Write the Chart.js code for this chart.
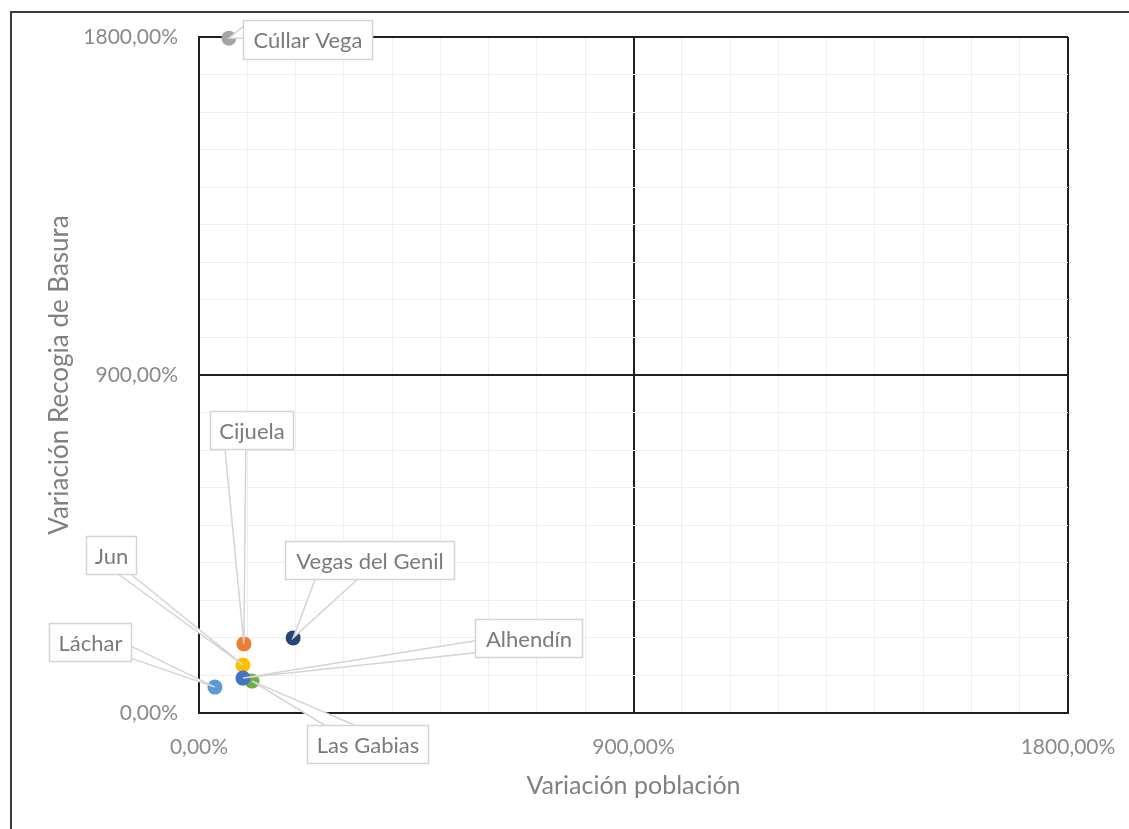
<!DOCTYPE html>
<html>
<head>
<meta charset="utf-8">
<script src="https://cdn.jsdelivr.net/npm/chart.js@4.4.0/dist/chart.umd.min.js"></script>
<style>
  html, body { margin: 0; padding: 0; background: #fff; overflow: hidden; }
  #wrap { position: relative; width: 1129px; height: 829px; }
  #frame {
    position: absolute; left: 10px; top: 11px; right: -10px; bottom: -10px;
    border-top: 2px solid #3a3a3a; border-left: 2px solid #3a3a3a;
    pointer-events: none;
  }
  canvas { position: absolute; left: 0; top: 0; }
</style>
</head>
<body>
<div id="wrap">
  <canvas id="chart" width="1129" height="829"></canvas>
  <div id="frame"></div>
</div>
<script>
'use strict';

// municipios, variación de población (%) y de recogida de basura (%)
const municipios = ['Alhendín', 'Cijuela', 'Cúllar Vega', 'Jun', 'Láchar', 'Las Gabias', 'Vegas del Genil'];
const varPoblacion = [91, 93, 62, 91, 33, 110, 195];
const varBasura = [93, 184, 1797, 128, 69, 85, 200];
const colores = ['#4472C4', '#ED7D31', '#A5A5A5', '#FFC000', '#5B9BD5', '#70AD47', '#264478'];
const ejeTicks = [0, 900, 1800];

// where each callout box sits relative to its point, and which side the pointer leaves from
const callouts = [
    { dx: 286, dy: -40, w: 107, h: 38, side: 'left', at: 0.72 },
    { dx: 8, dy: -214, w: 83, h: 38, side: 'bottom', at: 0.3 },
    { dx: 79, dy: 1, w: 129, h: 39, side: 'left', at: 0.3 },
    { dx: -132, dy: -110, w: 50, h: 38, side: 'bottom', at: 0.77 },
    { dx: -125, dy: -45, w: 82, h: 38, side: 'right', at: 0.76 },
    { dx: 115, dy: 63, w: 121, h: 38, side: 'top', at: 0.27 },
    { dx: 76, dy: -78, w: 169, h: 38, side: 'bottom', at: 0.3 }
];

const FONT = 'Lato, "Open Sans", sans-serif';
const fmt = v => v.toFixed(2).replace('.', ',') + '%';

const calloutPlugin = {
    id: 'callouts',
    afterDatasetsDraw(chart) {
        const ctx = chart.ctx;
        ctx.save();
        chart.data.datasets.forEach((ds, i) => {
            const pt = chart.getDatasetMeta(i).data[0];
            const c = callouts[i];
            if (!pt || !c) return;
            const px = pt.x, py = pt.y;
            const cx = px + c.dx, cy = py + c.dy;
            const l = Math.round(cx - c.w / 2) + 0.5, t = Math.round(cy - c.h / 2) + 0.5;
            const r = l + c.w, b = t + c.h;

            // pointer wedge
            let a1, a2;
            if (c.side === 'top' || c.side === 'bottom') {
                const y = c.side === 'top' ? t : b;
                const half = Math.max(6, c.w * 0.125);
                const m = l + c.w * c.at;
                a1 = [m - half, y]; a2 = [m + half, y];
            } else {
                const x = c.side === 'left' ? l : r;
                const half = Math.max(6, c.h * 0.15);
                const m = t + c.h * c.at;
                a1 = [x, m - half]; a2 = [x, m + half];
            }
            ctx.beginPath();
            ctx.moveTo(a1[0], a1[1]);
            ctx.lineTo(px, py);
            ctx.lineTo(a2[0], a2[1]);
            ctx.closePath();
            ctx.fillStyle = '#ffffff';
            ctx.fill();
            ctx.lineWidth = 1.5;
            ctx.strokeStyle = '#d4d4d4';
            ctx.beginPath();
            ctx.moveTo(a1[0], a1[1]);
            ctx.lineTo(px, py);
            ctx.lineTo(a2[0], a2[1]);
            ctx.stroke();

            // box
            ctx.fillStyle = '#ffffff';
            ctx.fillRect(l, t, c.w, c.h);
            ctx.strokeRect(l, t, c.w, c.h);

            ctx.fillStyle = '#7a7a7a';
            ctx.font = '22px ' + FONT;
            ctx.textAlign = 'center';
            ctx.textBaseline = 'middle';
            ctx.fillText(municipios[i], (l + r) / 2, (t + b) / 2 + 1);
        });
        ctx.restore();
    }
};

const datasets = municipios.map((m, i) => ({
    label: m,
    data: [{ x: varPoblacion[i], y: varBasura[i] }],
    backgroundColor: colores[i],
    borderColor: colores[i],
    pointRadius: 7.5,
    pointHoverRadius: 7.5,
    borderWidth: 0,
    clip: false
}));

const gridColor = c => (ejeTicks.includes(c.tick.value) ? '#1f1f1f' : '#efefef');
const gridWidth = c => (ejeTicks.includes(c.tick.value) ? 2 : 1);

new Chart(document.getElementById('chart'), {
    type: 'scatter',
    data: { datasets: datasets },
    plugins: [calloutPlugin],
    options: {
        responsive: false,
        animation: false,
        layout: { padding: { left: 0, right: 61, top: 37, bottom: 0 } },
        plugins: {
            legend: { display: false },
            tooltip: { enabled: false }
        },
        scales: {
            x: {
                type: 'linear',
                min: 0,
                max: 1800,
                afterFit(scale) { scale.height = 116; },
                ticks: {
                    stepSize: 100,
                    autoSkip: false,
                    maxRotation: 0,
                    padding: 2,
                    color: '#8a8a8a',
                    font: { family: FONT, size: 21 },
                    callback: v => (ejeTicks.includes(v) ? fmt(v) : '')
                },
                grid: {
                    color: gridColor,
                    lineWidth: gridWidth,
                    drawTicks: true,
                    tickLength: 20,
                    tickColor: 'rgba(0,0,0,0)'
                },
                border: { color: '#1f1f1f', width: 2 },
                title: {
                    display: true,
                    text: 'Variación población',
                    color: '#808080',
                    font: { family: FONT, size: 25 },
                    padding: { top: 16, bottom: 28 }
                }
            },
            y: {
                type: 'linear',
                min: 0,
                max: 1800,
                afterFit(scale) { scale.width = 199; },
                ticks: {
                    stepSize: 100,
                    autoSkip: false,
                    padding: 21,
                    color: '#8a8a8a',
                    font: { family: FONT, size: 21 },
                    callback: v => (ejeTicks.includes(v) ? fmt(v) : '')
                },
                grid: { color: gridColor, lineWidth: gridWidth, drawTicks: false },
                border: { color: '#1f1f1f', width: 2 },
                title: {
                    display: true,
                    text: 'Variación Recogia de Basura',
                    color: '#808080',
                    font: { family: FONT, size: 26 },
                    padding: { top: 44, bottom: 0 }
                }
            }
        }
    }
});
</script>
</body>
</html>
